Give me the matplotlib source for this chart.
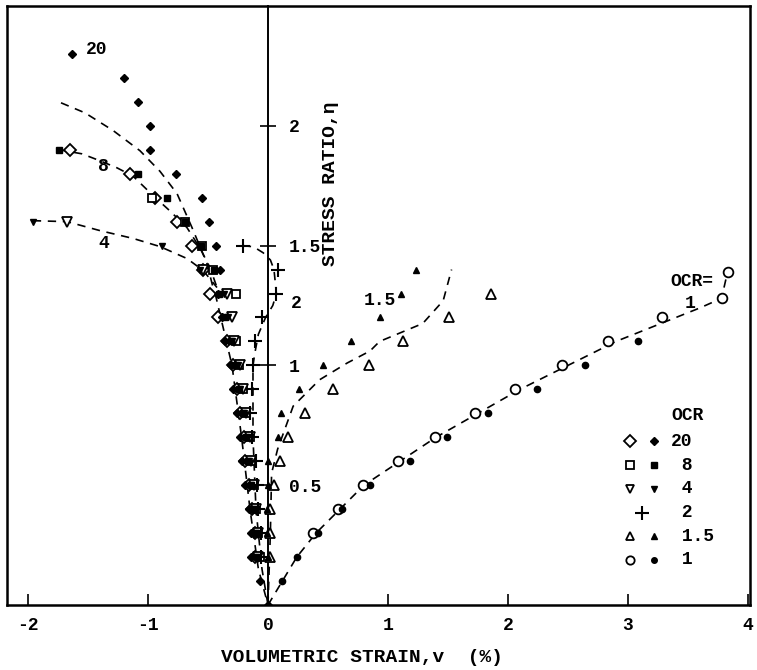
# ============================================================
# Section 1. Setup and Imports
# ============================================================

import matplotlib

matplotlib.use("Agg")

import matplotlib.pyplot as plt

# Typewriter look of the original scan.
plt.rcParams["font.family"] = ["Liberation Mono", "DejaVu Sans Mono"]
plt.rcParams["font.weight"] = "bold"

# ============================================================
# Section 2. Data
# ============================================================

# OCR = 20, filled diamonds (first point is the origin)
eta_20_filled = [0.0, 0.1, 0.2, 0.3, 0.4, 0.5, 0.6, 0.7, 0.8, 0.9, 1.0, 1.1, 1.2,
                 1.3, 1.4, 1.5, 1.6, 1.7, 1.8, 1.9, 2.0, 2.1, 2.2, 2.3]
v_20_filled = [0.0, -0.07, -0.14, -0.14, -0.16, -0.19, -0.22, -0.23, -0.26, -0.29,
               -0.31, -0.36, -0.38, -0.42, -0.40, -0.43, -0.49, -0.55, -0.77,
               -0.98, -0.98, -1.08, -1.20, -1.63]

# OCR = 20, open diamonds
eta_20_open = [0.2, 0.3, 0.4, 0.5, 0.6, 0.7, 0.8, 0.9, 1.0, 1.1, 1.2, 1.3, 1.4,
               1.5, 1.6, 1.7, 1.8, 1.9]
v_20_open = [-0.11, -0.11, -0.13, -0.16, -0.19, -0.20, -0.23, -0.26, -0.29, -0.34,
             -0.42, -0.48, -0.54, -0.63, -0.76, -0.94, -1.15, -1.65]

# OCR = 8
eta_8_filled = [0.2, 0.3, 0.4, 0.5, 0.6, 0.7, 0.8, 0.9, 1.0, 1.1, 1.2, 1.3, 1.4,
                1.5, 1.6, 1.7, 1.8, 1.9]
v_8_filled = [-0.09, -0.10, -0.12, -0.14, -0.17, -0.18, -0.21, -0.24, -0.27, -0.31,
              -0.36, -0.41, -0.45, -0.56, -0.69, -0.84, -1.08, -1.74]
eta_8_open = [0.2, 0.3, 0.4, 0.5, 0.6, 0.7, 0.8, 0.9, 1.0, 1.1, 1.3, 1.4, 1.5,
              1.6, 1.7]
v_8_open = [-0.07, -0.08, -0.10, -0.12, -0.14, -0.15, -0.18, -0.21, -0.24, -0.27,
            -0.27, -0.46, -0.55, -0.69, -0.97]

# OCR = 4
eta_4_filled = [0.2, 0.3, 0.4, 0.5, 0.6, 0.7, 0.8, 0.9, 1.0, 1.1, 1.2, 1.3, 1.4,
                1.5, 1.6]
v_4_filled = [-0.10, -0.10, -0.12, -0.14, -0.16, -0.17, -0.20, -0.23, -0.25, -0.30,
              -0.33, -0.37, -0.57, -0.88, -1.96]
eta_4_open = [0.2, 0.3, 0.4, 0.5, 0.6, 0.7, 0.8, 0.9, 1.0, 1.1, 1.2, 1.3, 1.4, 1.6]
v_4_open = [-0.08, -0.08, -0.10, -0.12, -0.14, -0.15, -0.18, -0.21, -0.23, -0.28,
            -0.30, -0.34, -0.54, -1.675]

# OCR = 2 (plus signs)
eta_2 = [0.2, 0.3, 0.4, 0.5, 0.6, 0.7, 0.8, 0.9, 1.0, 1.1, 1.2, 1.3, 1.4, 1.5]
v_2 = [-0.06, -0.06, -0.08, -0.09, -0.10, -0.13, -0.15, -0.13, -0.125, -0.11,
       -0.05, 0.07, 0.08, -0.21]

# OCR = 1.5
eta_15_filled = [0.2, 0.3, 0.4, 0.5, 0.6, 0.7, 0.8, 0.9, 1.0, 1.1, 1.2, 1.3, 1.4]
v_15_filled = [0.0, -0.01, -0.01, 0.0, 0.0, 0.08, 0.11, 0.26, 0.46, 0.69, 0.93,
               1.11, 1.23]
eta_15_open = [0.2, 0.3, 0.4, 0.5, 0.6, 0.7, 0.8, 0.9, 1.0, 1.1, 1.2, 1.3]
v_15_open = [0.02, 0.02, 0.02, 0.05, 0.10, 0.17, 0.31, 0.54, 0.84, 1.125, 1.51, 1.86]

# OCR = 1
eta_1_filled = [0.1, 0.2, 0.3, 0.4, 0.5, 0.6, 0.7, 0.8, 0.9, 1.0, 1.1]
v_1_filled = [0.12, 0.24, 0.42, 0.62, 0.85, 1.18, 1.49, 1.83, 2.24, 2.64, 3.08]
eta_1_open = [0.3, 0.4, 0.5, 0.6, 0.7, 0.8, 0.9, 1.0, 1.1, 1.2, 1.28, 1.39]
v_1_open = [0.375, 0.58, 0.79, 1.08, 1.39, 1.725, 2.06, 2.45, 2.83, 3.28, 3.78, 3.83]

# Dashed fitted curves (hand-drawn in the original)
curve_20_v = [-1.725, -1.525, -1.29, -1.067, -0.90, -0.758, -0.633, -0.508, -0.458]
curve_20_eta = [2.096, 2.054, 1.98, 1.896, 1.81, 1.717, 1.575, 1.425, 1.325]
curve_8_v = [-1.74, -1.55, -1.40, -1.26, -1.125, -0.96, -0.82, -0.675, -0.567,
             -0.483, -0.425]
curve_8_eta = [1.90, 1.883, 1.854, 1.825, 1.79, 1.71, 1.646, 1.575, 1.49, 1.408, 1.325]
curve_4_v = [-1.96, -1.675, -1.40, -1.125, -0.90, -0.675, -0.54, -0.425]
curve_4_eta = [1.604, 1.60, 1.5625, 1.53, 1.496, 1.446, 1.396, 1.325]
curve_2_v = [-0.21, -0.12, -0.04, 0.02, 0.05, 0.06, 0.07, 0.04, -0.02, -0.08,
             -0.11, -0.125, -0.125, -0.10, -0.05, 0.0]
curve_2_eta = [1.50, 1.495, 1.47, 1.44, 1.40, 1.35, 1.30, 1.25, 1.20, 1.13,
               1.05, 1.0, 0.70, 0.40, 0.15, 0.0]
curve_15_v = [0.0, 0.02, 0.03, 0.08, 0.21, 0.43, 0.66, 0.85, 0.93, 1.29, 1.46, 1.53]
curve_15_eta = [0.0, 0.30, 0.55, 0.65, 0.83, 0.94, 1.01, 1.06, 1.10, 1.175, 1.27, 1.40]
curve_1_v = [0.0, 0.12, 0.24, 0.40, 0.60, 0.80, 1.10, 1.40, 1.75, 2.10, 2.50, 2.90,
             3.30, 3.60, 3.78, 3.83]
curve_1_eta = [0.0, 0.10, 0.20, 0.30, 0.40, 0.50, 0.60, 0.70, 0.80, 0.90, 1.00,
               1.10, 1.18, 1.24, 1.28, 1.39]
trunk_v = [-0.44, -0.30, -0.22, -0.15, -0.08, 0.0]
trunk_eta = [1.30, 1.00, 0.70, 0.40, 0.15, 0.0]

# Axis ticks
x_ticks = [-2, -1, 0, 1, 2, 3, 4]
x_tick_labels = ["-2", "-1", "0", "1", "2", "3", "4"]
y_ticks = [0.5, 1.0, 1.5, 2.0]
y_tick_labels = ["0.5", "1", "1.5", "2"]

# Legend entries: (open marker, filled marker, label)
legend_labels = ["20", " 8", " 4", " 2", " 1.5", " 1"]
legend_open = ["D", "s", "v", "+", "^", "o"]
legend_filled = ["D", "s", "v", None, "^", "o"]

# ============================================================
# Section 3. Helper Functions
# ============================================================

DASH = (0, (5, 4))


def _open(ax, x, y, marker, ms):
    """Draw open (white filled) markers."""
    ax.plot(x, y, linestyle="none", marker=marker, ms=ms, mfc="white",
            mec="black", mew=1.3, zorder=4)


def _filled(ax, x, y, marker, ms):
    """Draw small solid markers."""
    ax.plot(x, y, linestyle="none", marker=marker, ms=ms, color="black", zorder=5)


def _curve(ax, x, y):
    """Draw a dashed fitted curve."""
    ax.plot(x, y, color="black", lw=1.2, linestyle=DASH, zorder=3)


# ============================================================
# Section 4. Build the Figure
# ============================================================

fig = plt.figure(figsize=(7.57, 6.70), dpi=100)
ax = fig.add_axes([7 / 757, 65 / 670, 743 / 757, 599 / 670])
ax.set_xlim(-2.175, 4.017)
ax.set_ylim(0, 2.5)

# Dashed curves
for cx, cy in [(curve_20_v, curve_20_eta), (curve_8_v, curve_8_eta),
               (curve_4_v, curve_4_eta), (curve_2_v, curve_2_eta),
               (curve_15_v, curve_15_eta), (curve_1_v, curve_1_eta),
               (trunk_v, trunk_eta)]:
    _curve(ax, cx, cy)

# Data markers
_filled(ax, v_20_filled, eta_20_filled, "D", 4)
_open(ax, v_20_open, eta_20_open, "D", 6.5)
_filled(ax, v_8_filled, eta_8_filled, "s", 3.8)
_open(ax, v_8_open, eta_8_open, "s", 6)
_filled(ax, v_4_filled, eta_4_filled, "v", 4.2)
_open(ax, v_4_open, eta_4_open, "v", 7)
ax.plot(v_2, eta_2, linestyle="none", marker="+", ms=10, mew=1.5, color="black",
        zorder=5)
_filled(ax, v_15_filled, eta_15_filled, "^", 4.5)
_open(ax, v_15_open, eta_15_open, "^", 7)
_filled(ax, v_1_filled, eta_1_filled, "o", 4.5)
_open(ax, v_1_open, eta_1_open, "o", 7)

# Curve labels
label_kw = dict(fontsize=13, fontweight="bold", ha="left", va="center")
ax.text(-1.52, 2.32, "20", **label_kw)
ax.text(-1.42, 1.83, "8", **label_kw)
ax.text(-1.41, 1.51, "4", **label_kw)
ax.text(0.19, 1.26, "2", **label_kw)
ax.text(0.80, 1.27, "1.5", **label_kw)
ax.text(3.35, 1.35, "OCR=", **label_kw)
ax.text(3.47, 1.26, "1", **label_kw)

# Legend drawn by hand like the original
ax.text(3.36, 0.79, "OCR", **label_kw)
for i, lab in enumerate(legend_labels):
    ly = 0.683 - i * 0.099
    if legend_filled[i] is None:
        ax.plot([3.12], [ly], linestyle="none", marker="+", ms=10, mew=1.5,
                color="black")
    else:
        _open(ax, [3.02], [ly], legend_open[i], 6)
        _filled(ax, [3.22], [ly], legend_filled[i], 4)
    ax.text(3.36, ly, lab, **label_kw)

# ============================================================
# Section 5. Axes styling
# ============================================================

# Vertical stress-ratio axis sits at v = 0
ax.spines["right"].set_position(("data", 0))
ax.spines["right"].set_linewidth(1.4)
ax.yaxis.set_ticks_position("right")
ax.set_yticks(y_ticks)
ax.set_yticklabels(y_tick_labels)
ax.tick_params(axis="y", direction="inout", length=12, width=1.2, pad=9,
               labelsize=13)

ax.set_xticks(x_ticks)
ax.set_xticklabels(x_tick_labels)
ax.tick_params(axis="x", direction="in", length=8, width=1.2, pad=9, labelsize=13)

for side in ["left", "top", "bottom"]:
    ax.spines[side].set_linewidth(1.8)
# Right border of the frame (the right spine is used as the y axis)
ax.plot([1, 1], [0, 1], transform=ax.transAxes, color="black", lw=1.8,
        clip_on=False)

ax.text(0.52, 1.76, "STRESS RATIO,η", rotation=90, fontsize=14,
        fontweight="bold", ha="center", va="center")
fig.text(362 / 757, 1 - 658 / 670, "VOLUMETRIC STRAIN,v  (%)", fontsize=14,
         fontweight="bold", ha="center", va="center")

fig.savefig("out.png", dpi=100)
plt.close(fig)
